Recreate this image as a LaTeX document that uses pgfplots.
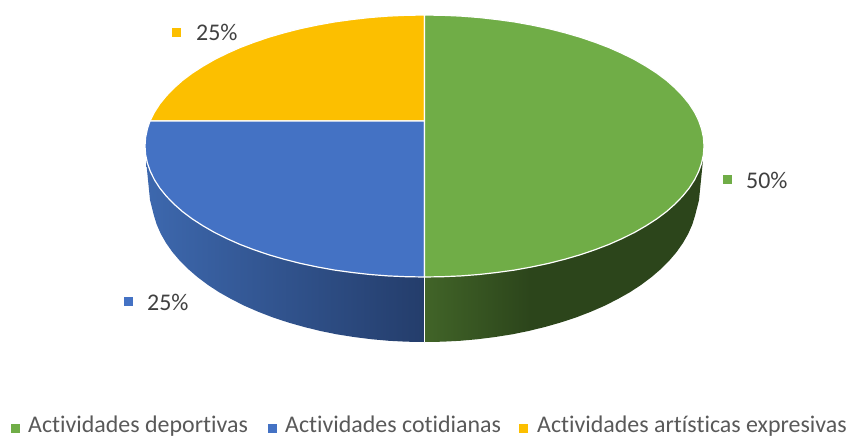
\documentclass[border=0pt]{standalone}
\usepackage{pgfplots}
\pgfplotsset{compat=1.18}
\usepackage{fontspec}
\setmainfont[Ligatures=NoCommon]{Carlito}
\definecolor{cGreen}{HTML}{70AD47}
\definecolor{cBlue}{HTML}{4472C4}
\definecolor{cYellow}{HTML}{FCBF00}
\definecolor{tDark}{HTML}{404040}
\definecolor{tLeg}{HTML}{595959}
\definecolor{gA}{HTML}{416428}
\definecolor{gB}{HTML}{2C451B}
\definecolor{bA}{HTML}{3D68AE}
\definecolor{bB}{HTML}{243D6B}
\pgfdeclarehorizontalshading{greenwall}{100bp}{color(0bp)=(gA); color(25bp)=(gA); color(44bp)=(gB); color(100bp)=(gB)}
\pgfdeclarehorizontalshading{bluewall}{100bp}{color(0bp)=(bA); color(25bp)=(bA); color(75bp)=(bB); color(100bp)=(bB)}
\begin{document}
\begin{tikzpicture}
\useasboundingbox (0,0) rectangle (851bp,437bp);
\begin{axis}[
  at={(0,0)}, anchor=south west,
  scale only axis, width=851bp, height=437bp,
  xmin=0, xmax=851, ymin=0, ymax=437, y dir=reverse,
  hide axis, clip=false,
]
% side walls
\addplot[draw=none, shading=bluewall] coordinates {
 (146,160) (147.4,163.1) (150.4,171.6) (154.5,179.9) (159.8,188.1) (166.3,196.1) (173.8,203.9) (182.4,211.5) (192.1,218.8) (202.8,225.7) (214.4,232.4) (226.9,238.6) (240.2,244.5) (254.4,249.9) (269.2,254.9) (284.7,259.4) (300.9,263.5) (317.5,267) (334.7,270.1) (352.2,272.5) (370,274.5) (388,275.9) (406.2,276.7) (424.5,277)
 (424.5,342) (406.6,341.7) (388.9,340.8) (371.2,339.2) (353.8,337) (336.7,334.3) (320,330.9) (303.8,326.9) (288,322.4) (272.8,317.4) (258.3,311.8) (244.5,305.8) (231.5,299.2) (219.2,292.3) (207.9,284.9) (197.5,277.1) (188.1,269) (179.7,260.6) (172.3,251.9) (166,242.9) (160.8,233.8) (156.7,224.5) (153.8,215.1) (150,200)
} --cycle;
\addplot[draw=none, shading=greenwall] coordinates {
 (424.5,277) (442.8,276.7) (461,275.9) (479,274.5) (496.8,272.5) (514.3,270.1) (531.5,267) (548.1,263.5) (564.3,259.4) (579.8,254.9) (594.6,249.9) (608.8,244.5) (622.1,238.6) (634.6,232.4) (646.2,225.7) (656.9,218.8) (666.6,211.5) (675.2,203.9) (682.7,196.1) (689.2,188.1) (694.5,179.9) (698.6,171.6) (701.6,163.1) (703,160)
 (699,200) (695.2,215.1) (692.3,224.5) (688.2,233.8) (683,242.9) (676.7,251.9) (669.3,260.6) (660.9,269) (651.5,277.1) (641.1,284.9) (629.8,292.3) (617.5,299.2) (604.5,305.8) (590.7,311.8) (576.2,317.4) (561,322.4) (545.2,326.9) (529,330.9) (512.3,334.3) (495.2,337) (477.8,339.2) (460.1,340.8) (442.4,341.7) (424.5,342)
} --cycle;
\addplot[white, line width=1.2bp] coordinates {(424.5,277) (424.5,342)};
% top slices
\addplot[draw=white, line width=1.2bp, line join=round, fill=cYellow] coordinates {
 (424.5,121) (150,121) (154.5,112.1) (159.8,103.9) (166.3,95.9) (173.8,88.1) (182.4,80.5) (192.1,73.2) (202.8,66.3) (214.4,59.6) (226.9,53.4) (240.2,47.5) (254.4,42.1) (269.2,37.1) (284.7,32.6) (300.9,28.5) (317.5,25) (334.7,21.9) (352.2,19.5) (370,17.5) (388,16.1) (406.2,15.3) (424.5,15)
} --cycle;
\addplot[draw=white, line width=1.2bp, line join=round, fill=cBlue] coordinates {
 (424.5,121) (150,121) (147.4,128.9) (145.6,137.4) (145,146) (145.6,154.6) (147.4,163.1) (150.4,171.6) (154.5,179.9) (159.8,188.1) (166.3,196.1) (173.8,203.9) (182.4,211.5) (192.1,218.8) (202.8,225.7) (214.4,232.4) (226.9,238.6) (240.2,244.5) (254.4,249.9) (269.2,254.9) (284.7,259.4) (300.9,263.5) (317.5,267) (334.7,270.1) (352.2,272.5) (370,274.5) (388,275.9) (406.2,276.7) (424.5,277)
} --cycle;
\addplot[draw=white, line width=1.2bp, line join=round, fill=cGreen] coordinates {
 (424.5,15) (442.8,15.3) (461,16.1) (479,17.5) (496.8,19.5) (514.3,21.9) (531.5,25) (548.1,28.5) (564.3,32.6) (579.8,37.1) (594.6,42.1) (608.8,47.5) (622.1,53.4) (634.6,59.6) (646.2,66.3) (656.9,73.2) (666.6,80.5) (675.2,88.1) (682.7,95.9) (689.2,103.9) (694.5,112.1) (698.6,120.4) (701.6,128.9) (703.4,137.4) (704,146) (703.4,154.6) (701.6,163.1) (698.6,171.6) (694.5,179.9) (689.2,188.1) (682.7,196.1) (675.2,203.9) (666.6,211.5) (656.9,218.8) (646.2,225.7) (634.6,232.4) (622.1,238.6) (608.8,244.5) (594.6,249.9) (579.8,254.9) (564.3,259.4) (548.1,263.5) (531.5,267) (514.3,270.1) (496.8,272.5) (479,274.5) (461,275.9) (442.8,276.7) (424.5,277)
} --cycle;
% label and legend keys
\addplot[only marks, mark=square*, mark size=4bp, color=cGreen] coordinates {(727,179) (15.5,428)};
\addplot[only marks, mark=square*, mark size=4bp, color=cBlue] coordinates {(128,301) (272,428)};
\addplot[only marks, mark=square*, mark size=4bp, color=cYellow] coordinates {(176,32) (523,428)};
% data labels
\node[anchor=base west, inner sep=0pt, text=tDark, font=\fontsize{24}{26}\selectfont] at (axis cs:746,188) {50\%};
\node[anchor=base west, inner sep=0pt, text=tDark, font=\fontsize{24}{26}\selectfont] at (axis cs:147,310) {25\%};
\node[anchor=base west, inner sep=0pt, text=tDark, font=\fontsize{24}{26}\selectfont] at (axis cs:196,41) {25\%};
% legend
\node[anchor=base west, inner sep=0pt, text=tLeg, font=\fontsize{24}{26}\selectfont] at (axis cs:28,432.5) {Actividades deportivas};
\node[anchor=base west, inner sep=0pt, text=tLeg, font=\fontsize{24}{26}\selectfont] at (axis cs:285,432.5) {Actividades cotidianas};
\node[anchor=base west, inner sep=0pt, text=tLeg, font=\fontsize{24}{26}\selectfont] at (axis cs:537,432.5) {Actividades artísticas expresivas};
\end{axis}
\end{tikzpicture}
\end{document}
